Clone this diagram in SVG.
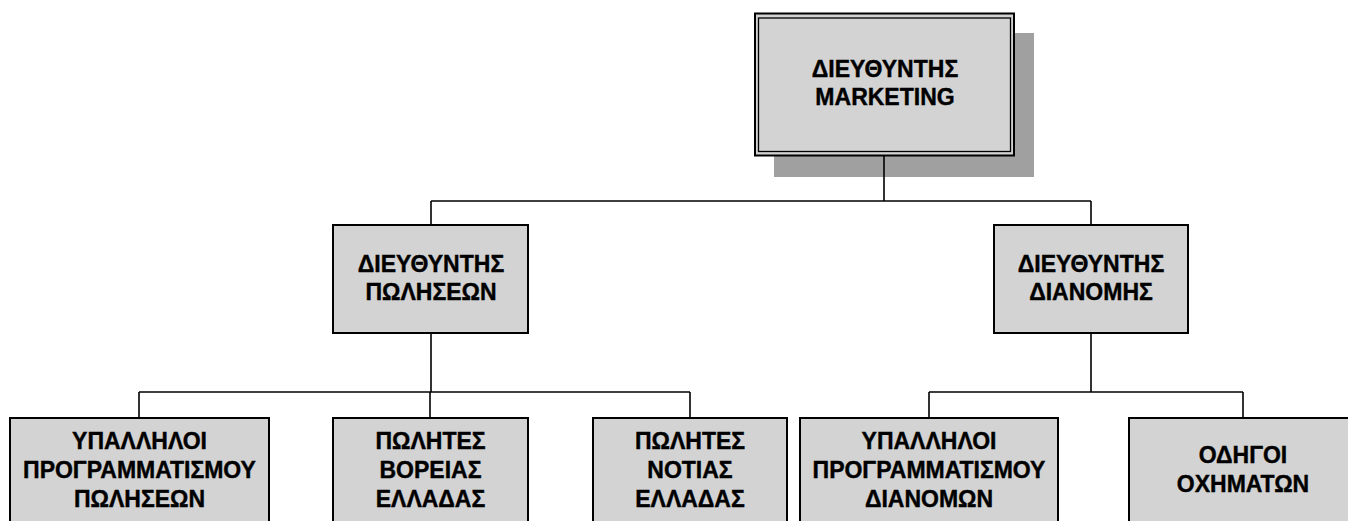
<svg xmlns="http://www.w3.org/2000/svg" width="1348" height="521" viewBox="0 0 1348 521">
  <style>
    .box { fill: #d3d3d3; stroke: #000; stroke-width: 2; }
    .inner { fill: none; stroke: #000; stroke-width: 1.3; }
    .shadow { fill: #a0a0a0; }
    .conn { fill: none; stroke: #000; stroke-width: 1.6; }
    text { font-family: "Liberation Sans", Arial, sans-serif; font-weight: bold; font-size: 23px; fill: #000; stroke: #000; stroke-width: 0.4; text-anchor: middle; }
  </style>
  <rect width="1348" height="521" fill="#fff"/>
  <g id="n-marketing">
    <rect class="shadow" x="774" y="33" width="260" height="144"/>
    <rect class="box" x="755" y="13.5" width="259" height="142"/>
    <rect class="inner" x="758.5" y="18" width="252" height="133.5"/>
    <text x="885" y="77">ΔΙΕΥΘΥΝΤΗΣ</text>
    <text x="885" y="105">MARKETING</text>
  </g>
  <g id="connectors">
    <path class="conn" d="M884,156 V201 M431,201 H1091 M431,201 V225 M1091,201 V225"/>
    <path class="conn" d="M431,333 V392 M139,392 H690 M139,392 V418 M430,392 V418 M690,392 V418"/>
    <path class="conn" d="M1091,333 V392 M929,392 H1243 M929,392 V418 M1243,392 V418"/>
  </g>
  <g id="n-sales">
    <rect class="box" x="333" y="225" width="195" height="108"/>
    <text x="431" y="272">ΔΙΕΥΘΥΝΤΗΣ</text>
    <text x="431" y="300">ΠΩΛΗΣΕΩΝ</text>
  </g>
  <g id="n-distribution">
    <rect class="box" x="994" y="225" width="194" height="108"/>
    <text x="1091" y="272">ΔΙΕΥΘΥΝΤΗΣ</text>
    <text x="1091" y="300">ΔΙΑΝΟΜΗΣ</text>
  </g>
  <g id="n-sales-planning">
    <rect class="box" x="10" y="418" width="259" height="110"/>
    <text x="139.5" y="449">ΥΠΑΛΛΗΛΟΙ</text>
    <text x="139.5" y="478">ΠΡΟΓΡΑΜΜΑΤΙΣΜΟΥ</text>
    <text x="139.5" y="507">ΠΩΛΗΣΕΩΝ</text>
  </g>
  <g id="n-north">
    <rect class="box" x="333" y="418" width="195" height="110"/>
    <text x="430.5" y="449">ΠΩΛΗΤΕΣ</text>
    <text x="430.5" y="478">ΒΟΡΕΙΑΣ</text>
    <text x="430.5" y="507">ΕΛΛΑΔΑΣ</text>
  </g>
  <g id="n-south">
    <rect class="box" x="593" y="418" width="194" height="110"/>
    <text x="690" y="449">ΠΩΛΗΤΕΣ</text>
    <text x="690" y="478">ΝΟΤΙΑΣ</text>
    <text x="690" y="507">ΕΛΛΑΔΑΣ</text>
  </g>
  <g id="n-dist-planning">
    <rect class="box" x="800" y="418" width="258" height="110"/>
    <text x="929" y="449">ΥΠΑΛΛΗΛΟΙ</text>
    <text x="929" y="478">ΠΡΟΓΡΑΜΜΑΤΙΣΜΟΥ</text>
    <text x="929" y="507">ΔΙΑΝΟΜΩΝ</text>
  </g>
  <g id="n-drivers">
    <rect class="box" x="1129" y="418" width="228" height="110"/>
    <text x="1243" y="463">ΟΔΗΓΟΙ</text>
    <text x="1243" y="492">ΟΧΗΜΑΤΩΝ</text>
  </g>
</svg>
